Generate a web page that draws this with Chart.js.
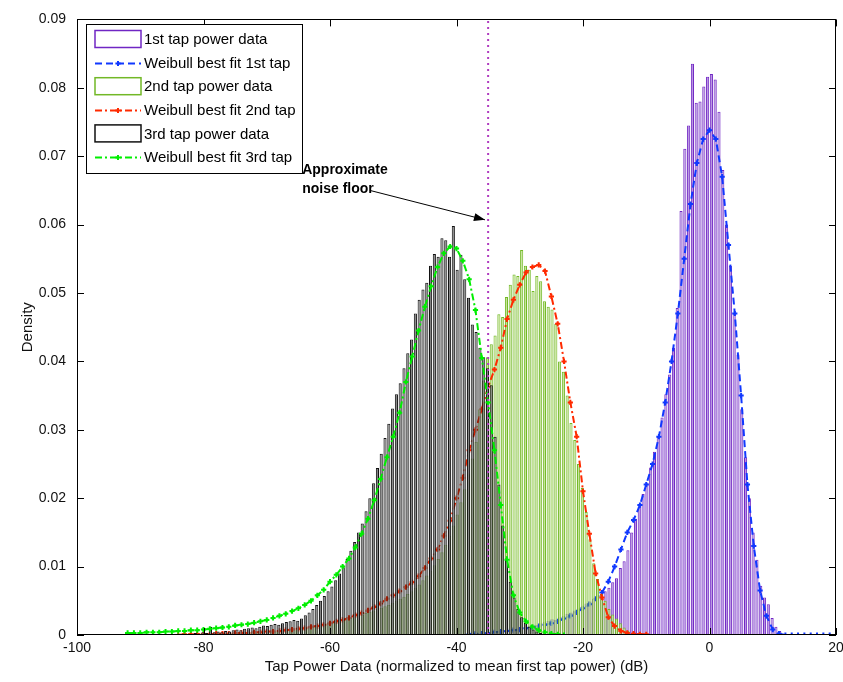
<!DOCTYPE html>
<html><head><meta charset="utf-8">
<script src="https://cdn.jsdelivr.net/npm/chart.js@4.4.0/dist/chart.umd.min.js"></script>
<style>html,body{margin:0;padding:0;background:#fff;overflow:hidden}</style>
</head><body>
<canvas id="c" width="843" height="682"></canvas>
<script>
// ---------------- DATA ----------------
const binWidth = 0.6;            // dB, histogram bin width
const tap1Start = -37.5;         // centre of first bin (dB)
const tap1Hist = [
 0.0002,0.0001,0.0003,0.0002,0.0004,0.0003,0.0005,0.0006,0.0005,0.0007,
 0.0008,0.0009,0.0008,0.0011,0.0012,0.0013,0.0015,0.0014,0.0017,0.0019,
 0.0021,0.0023,0.0022,0.0026,0.0028,0.0031,0.0033,0.0036,0.0039,0.0042,
 0.0046,0.0049,0.0053,0.0057,0.0060,0.0064,0.0069,0.0077,0.0083,0.0098,
 0.0108,0.0124,0.0150,0.0170,0.0188,0.0206,0.0222,0.0245,0.0268,0.0290,
 0.0318,0.0352,0.0381,0.0420,0.0478,0.0620,0.0711,0.0745,0.0835,0.0778,
 0.0780,0.0802,0.0816,0.0820,0.0812,0.0765,0.0680,0.0600,0.0540,0.0470,
 0.0410,0.0330,0.0260,0.0200,0.0150,0.0110,0.0072,0.0055,0.0045,0.0025,
 0.0012,0.0006,0.0002];
const tap2Start = -84.3;
const tap2Hist = [
 0,0,0.0001,0,0.0001,0.0001,0.0001,0.0001,0.0002,0.0001,
 0.0002,0.0002,0.0002,0.0003,0.0002,0.0003,0.0003,0.0003,0.0004,0.0003,
 0.0004,0.0003,0.0004,0.0004,0.0005,0.0005,0.0005,0.0006,0.0006,0.0007,
 0.0007,0.0008,0.0008,0.0009,0.0010,0.0011,0.0012,0.0013,0.0014,0.0016,
 0.0017,0.0018,0.0019,0.0020,0.0022,0.0023,0.0025,0.0026,0.0028,0.0030,
 0.0032,0.0034,0.0036,0.0038,0.0040,0.0042,0.0044,0.0047,0.0050,0.0053,
 0.0056,0.0060,0.0064,0.0069,0.0074,0.0080,0.0087,0.0094,0.0102,0.0111,
 0.0121,0.0132,0.0145,0.0160,0.0176,0.0194,0.0213,0.0235,0.0258,0.0282,
 0.0330,0.0372,0.0406,0.0425,0.0438,0.0469,0.0465,0.0494,0.0512,0.0527,
 0.0525,0.0563,0.0540,0.0534,0.0503,0.0525,0.0517,0.0488,0.0480,0.0476,
 0.0455,0.0400,0.0385,0.0350,0.0310,0.0285,0.0250,0.0215,0.0180,0.0140,
 0.0105,0.0082,0.0060,0.0050,0.0038,0.0030,0.0024,0.0017,0.0011,0.0006,
 0.0002];
const tap3Start = -84.3;
const tap3Hist = [
 0.0001,0,0.0002,0.0001,0.0002,0.0003,0.0002,0.0004,0.0003,0.0012,
 0.0004,0.0005,0.0004,0.0006,0.0005,0.0007,0.0008,0.0007,0.0009,0.0010,
 0.0011,0.0010,0.0012,0.0014,0.0013,0.0015,0.0016,0.0015,0.0017,0.0019,
 0.0020,0.0022,0.0021,0.0024,0.0029,0.0033,0.0038,0.0044,0.0050,0.0057,
 0.0064,0.0071,0.0080,0.0090,0.0099,0.0111,0.0123,0.0136,0.0150,0.0163,
 0.0181,0.0200,0.0222,0.0244,0.0265,0.0288,0.0309,0.0331,0.0352,0.0368,
 0.0390,0.0412,0.0432,0.0470,0.0490,0.0505,0.0515,0.0540,0.0557,0.0553,
 0.0580,0.0577,0.0553,0.0598,0.0534,0.0556,0.0520,0.0493,0.0454,0.0443,
 0.0420,0.0406,0.0390,0.0365,0.0290,0.0220,0.0160,0.0112,0.0078,0.0055,
 0.0038,0.0026,0.0018,0.0012,0.0008,0.0005,0.0003,0.0002,0.0001];

const fitStep = 1;               // dB between fitted-curve samples
const fit1Start = -38;
const fit1 = [
 0.0001,0.0002,0.0002,0.0003,0.0004,0.0005,0.0006,0.0007,0.0008,0.0010,
 0.0011,0.0013,0.0015,0.0017,0.0020,0.0024,0.0028,0.0033,0.0039,0.0045,
 0.0053,0.0062,0.0078,0.0100,0.0125,0.0150,0.0168,0.0190,0.0220,0.0250,
 0.0290,0.0340,0.0400,0.0470,0.0550,0.0630,0.0690,0.0725,0.0738,0.0725,
 0.0670,0.0570,0.0470,0.0350,0.0220,0.0130,0.0065,0.0028,0.0008,0.0002,
 0,0,0,0,0,0,0,0];
const fit2Start = -84;
const fit2 = [
 0,0.0001,0.0001,0.0001,0.0001,0.0001,0.0002,0.0002,0.0002,0.0003,
 0.0003,0.0003,0.0004,0.0004,0.0005,0.0005,0.0006,0.0007,0.0008,0.0009,
 0.0010,0.0012,0.0013,0.0015,0.0017,0.0020,0.0022,0.0025,0.0029,0.0032,
 0.0036,0.0041,0.0046,0.0053,0.0058,0.0064,0.0070,0.0077,0.0086,0.0098,
 0.0112,0.0125,0.0145,0.0167,0.0200,0.0230,0.0270,0.0300,0.0330,0.0363,
 0.0388,0.0420,0.0462,0.0490,0.0512,0.0530,0.0538,0.0541,0.0532,0.0495,
 0.0455,0.0400,0.0340,0.0290,0.0210,0.0148,0.0090,0.0055,0.0026,0.0013,
 0.0006,0.0003,0.0002,0.0001,0.0001];
const fit3Start = -92;
const fit3 = [
 0.0003,0.0003,0.0003,0.0004,0.0004,0.0004,0.0005,0.0005,0.0006,0.0006,
 0.0007,0.0007,0.0008,0.0009,0.0010,0.0011,0.0012,0.0014,0.0015,0.0016,
 0.0018,0.0020,0.0022,0.0025,0.0028,0.0031,0.0035,0.0039,0.0044,0.0050,
 0.0058,0.0066,0.0078,0.0088,0.0100,0.0112,0.0128,0.0148,0.0170,0.0197,
 0.0228,0.0260,0.0290,0.0325,0.0370,0.0407,0.0445,0.0480,0.0510,0.0538,
 0.0558,0.0568,0.0565,0.0547,0.0520,0.0475,0.0405,0.0340,0.0270,0.0190,
 0.0110,0.0058,0.0033,0.0020,0.0012,0.0007,0.0004,0.0002,0.0001,0];

const noiseFloor = -35;          // dB
const xTicks = [-100,-80,-60,-40,-20,0,20];
const yTicks = [0,0.01,0.02,0.03,0.04,0.05,0.06,0.07,0.08,0.09];
const seriesLabels = ['1st tap power data','Weibull best fit 1st tap','2nd tap power data',
                      'Weibull best fit 2nd tap','3rd tap power data','Weibull best fit 3rd tap'];
const annotationLines = ['Approximate','noise floor'];
const xTitle = 'Tap Power Data (normalized to mean first tap power) (dB)';
const yTitle = 'Density';

// ---------------- helpers ----------------
const toPts = (start, step, arr) => arr.map((v, i) => ({x: +(start + i*step).toFixed(2), y: v}));

const FONT = '"Liberation Sans", Arial, sans-serif';
const C = {
  p1Face:'#b893e2', p1Edge:'#7026c4', fit1:'#1038ff',
  p2Face:'#c6e59a', p2Edge:'#72b826', fit2:'#ff2a00',
  p3Face:'#858585', p3Edge:'#111111', fit3:'#00ee00',
  noise:'#b03cc0'
};

const barCommon = {type:'bar', grouped:false, barPercentage:0.82, categoryPercentage:1,
                   borderWidth:1, borderSkipped:'start'};
const lineCommon = {type:'line', borderWidth:2, pointStyle:'cross', pointRadius:2.6,
                    pointBorderWidth:2, tension:0, fill:false};

const datasets = [
  {...barCommon, label:seriesLabels[0], data:toPts(tap1Start, binWidth, tap1Hist),
   backgroundColor:C.p1Face, borderColor:C.p1Edge, order:6},
  {...lineCommon, label:seriesLabels[1], data:toPts(fit1Start, fitStep, fit1),
   borderColor:C.fit1, pointBorderColor:C.fit1, borderDash:[7,4], order:5},
  {...barCommon, label:seriesLabels[2], data:toPts(tap2Start, binWidth, tap2Hist),
   backgroundColor:C.p2Face, borderColor:C.p2Edge, order:4},
  {...lineCommon, label:seriesLabels[3], data:toPts(fit2Start, fitStep, fit2),
   borderColor:C.fit2, pointBorderColor:C.fit2, borderDash:[7,3,2,3], order:3},
  {...barCommon, label:seriesLabels[4], data:toPts(tap3Start, binWidth, tap3Hist),
   backgroundColor:C.p3Face, borderColor:C.p3Edge, order:2},
  {...lineCommon, label:seriesLabels[5], data:toPts(fit3Start, fitStep, fit3),
   borderColor:C.fit3, pointBorderColor:C.fit3, borderDash:[7,3,2,3], order:1},
  {type:'line', label:'noise floor', data:[{x:noiseFloor, y:yTicks[0]}, {x:noiseFloor, y:yTicks[yTicks.length-1]}],
   borderColor:C.noise, borderWidth:2, borderDash:[2,4], pointRadius:0, order:0}
];

// legend rows (pixel layout only)
const LEG = {left:86, top:24, right:302, bottom:173, rowY0:39, rowDy:23.6, swL:95, swR:141, textX:144};

function drawMarker(ctx, x, y, color) {
  ctx.save(); ctx.strokeStyle = color; ctx.lineWidth = 2; ctx.setLineDash([]);
  ctx.beginPath(); ctx.moveTo(x-2.6, y); ctx.lineTo(x+2.6, y); ctx.moveTo(x, y-2.6); ctx.lineTo(x, y+2.6); ctx.stroke();
  ctx.restore();
}

const matlabAxes = {
  id:'matlabAxes',
  afterDraw(chart) {
    const {ctx, chartArea:a, scales:{x, y}} = chart;
    ctx.save();
    // box
    ctx.strokeStyle = '#000'; ctx.lineWidth = 1; ctx.setLineDash([]);
    ctx.strokeRect(Math.round(a.left)+0.5, Math.round(a.top)+0.5, Math.round(a.right-a.left)-1, Math.round(a.bottom-a.top)-1);
    // inward ticks
    const L = 7;
    ctx.beginPath();
    y.ticks.forEach(t => {
      const py = Math.round(y.getPixelForValue(t.value)) + 0.5;
      ctx.moveTo(a.left, py); ctx.lineTo(a.left + L, py);
      ctx.moveTo(a.right, py); ctx.lineTo(a.right - L, py);
    });
    x.ticks.forEach(t => {
      const px = Math.round(x.getPixelForValue(t.value)) + 0.5;
      ctx.moveTo(px, a.bottom); ctx.lineTo(px, a.bottom - L);
      ctx.moveTo(px, a.top); ctx.lineTo(px, a.top + L);
    });
    ctx.stroke();

    // legend
    ctx.fillStyle = '#fff';
    ctx.fillRect(LEG.left, LEG.top, LEG.right-LEG.left, LEG.bottom-LEG.top);
    ctx.strokeStyle = '#000'; ctx.lineWidth = 1;
    ctx.strokeRect(LEG.left+0.5, LEG.top+0.5, LEG.right-LEG.left, LEG.bottom-LEG.top);
    ctx.font = '15px ' + FONT; ctx.textBaseline = 'middle'; ctx.textAlign = 'left';
    seriesLabels.forEach((lab, i) => {
      const ds = chart.data.datasets[i];
      const yy = LEG.rowY0 + i*LEG.rowDy;
      if (ds.type === 'bar') {
        ctx.fillStyle = '#fff'; ctx.strokeStyle = ds.borderColor; ctx.lineWidth = 1.5; ctx.setLineDash([]);
        ctx.fillRect(LEG.swL, yy-8.5, LEG.swR-LEG.swL, 17);
        ctx.strokeRect(LEG.swL, yy-8.5, LEG.swR-LEG.swL, 17);
      } else {
        ctx.strokeStyle = ds.borderColor; ctx.lineWidth = 2; ctx.setLineDash(ds.borderDash);
        ctx.beginPath(); ctx.moveTo(LEG.swL, Math.round(yy)+0.5); ctx.lineTo(LEG.swR, Math.round(yy)+0.5); ctx.stroke();
        ctx.setLineDash([]);
        drawMarker(ctx, (LEG.swL+LEG.swR)/2, Math.round(yy)+0.5, ds.borderColor);
      }
      ctx.fillStyle = '#000';
      ctx.fillText(lab, LEG.textX, yy+1);
    });

    // annotation (data coordinates -> pixels via scales)
    const tx = x.getPixelForValue(-64.4), ty = y.getPixelForValue(0.0679);
    ctx.font = 'bold 14px ' + FONT; ctx.fillStyle = '#000'; ctx.textBaseline = 'middle';
    ctx.fillText(annotationLines[0], tx, ty);
    ctx.fillText(annotationLines[1], tx, ty + 19);
    const ax0 = x.getPixelForValue(-53.7), ay0 = y.getPixelForValue(0.0650);
    const ax1 = x.getPixelForValue(-35.5), ay1 = y.getPixelForValue(0.0607);
    ctx.strokeStyle = '#000'; ctx.lineWidth = 1;
    ctx.beginPath(); ctx.moveTo(ax0, ay0); ctx.lineTo(ax1, ay1); ctx.stroke();
    const ang = Math.atan2(ay1-ay0, ax1-ax0), hl = 11, hw = 4;
    ctx.beginPath();
    ctx.moveTo(ax1, ay1);
    ctx.lineTo(ax1 - hl*Math.cos(ang) + hw*Math.sin(ang), ay1 - hl*Math.sin(ang) - hw*Math.cos(ang));
    ctx.lineTo(ax1 - hl*Math.cos(ang) - hw*Math.sin(ang), ay1 - hl*Math.sin(ang) + hw*Math.cos(ang));
    ctx.closePath(); ctx.fillStyle = '#000'; ctx.fill();
    ctx.restore();
  }
};

new Chart(document.getElementById('c'), {
  data: {datasets},
  options: {
    responsive:false, animation:false, devicePixelRatio:1, events:[],
    layout:{padding:{top:15, right:0, left:0, bottom:0}},
    plugins:{legend:{display:false}, tooltip:{enabled:false}},
    scales:{
      x:{type:'linear', min:-100, max:20, offset:false,
         afterBuildTicks:s => { s.ticks = xTicks.map(v => ({value:v})); },
         afterFit:s => { s.height = 47; s.paddingRight = 7; s.paddingLeft = 0; },
         grid:{display:false, drawTicks:false}, border:{display:false},
         ticks:{color:'#111', font:{family:FONT, size:14}, padding:5, maxRotation:0, autoSkip:false,
                callback:v => String(v)},
         title:{display:true, text:xTitle, color:'#111', font:{family:FONT, size:15}, padding:{top:0, bottom:6}}},
      y:{type:'linear', min:0, max:0.09,
         afterBuildTicks:s => { s.ticks = yTicks.map(v => ({value:v})); },
         afterFit:s => { s.width = 77; },
         grid:{display:false, drawTicks:false}, border:{display:false},
         ticks:{color:'#111', font:{family:FONT, size:14}, padding:11, autoSkip:false,
                callback:v => v === 0 ? '0' : v.toFixed(2)},
         title:{display:true, text:yTitle, color:'#111', font:{family:FONT, size:15}, padding:{top:19, bottom:0}}}
    }
  },
  plugins:[matlabAxes]
});
</script>
</body></html>
